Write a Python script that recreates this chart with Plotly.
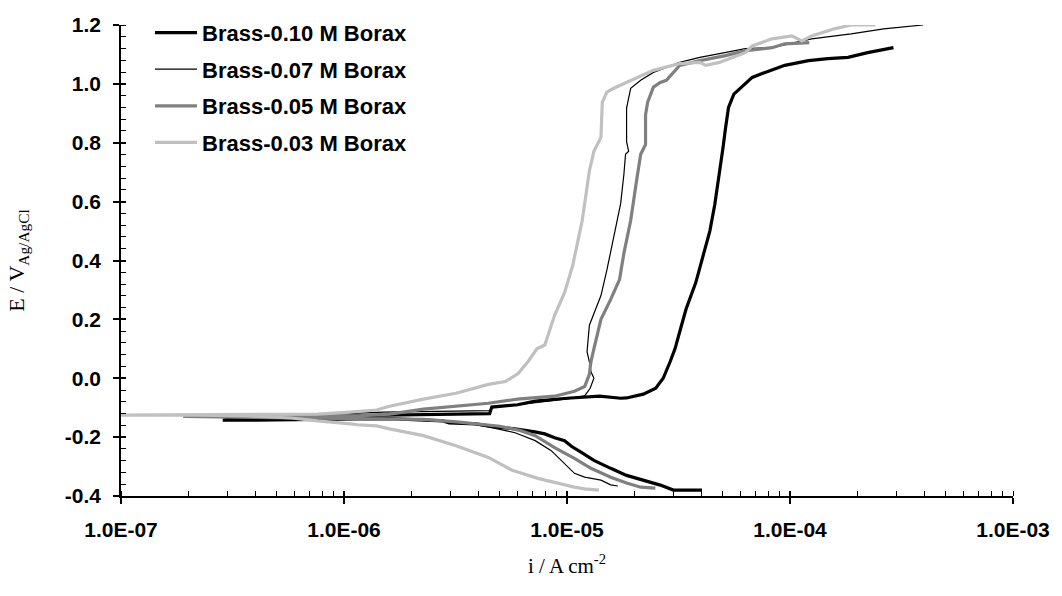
import plotly.graph_objects as go

# Potentiodynamic polarization curves of brass in borax solutions
# current density (A cm^-2) and potential (V vs Ag/AgCl), cathodic end -> anodic end

labels = ["Brass-0.10 M Borax", "Brass-0.07 M Borax", "Brass-0.05 M Borax", "Brass-0.03 M Borax"]

i_010 = [4.03e-5, 3.0e-5, 2.62e-5, 2.2e-5, 1.85e-5, 1.57e-5, 1.32e-5, 1.16e-5, 1.05e-5, 9.75e-6,
         8.8e-6, 7.95e-6, 7.18e-6, 5.85e-6, 4.77e-6, 3.89e-6, 2.96e-6, 2.78e-6, 2.27e-6, 1.6e-6,
         1.15e-6, 7.6e-7, 4.0e-7, 2.86e-7,
         3.3e-7, 6.0e-7, 1.0e-6, 1.45e-6, 3.0e-6, 4.5e-6, 4.6e-6, 6.0e-6, 7.2e-6, 1.0e-5,
         1.4e-5, 1.74e-5, 1.85e-5, 2.2e-5, 2.5e-5, 2.7e-5, 2.9e-5, 3.05e-5, 3.2e-5, 3.42e-5,
         3.78e-5, 4.07e-5, 4.37e-5, 4.6e-5, 4.83e-5, 5.0e-5, 5.14e-5, 5.3e-5, 5.6e-5, 6.2e-5,
         6.77e-5, 7.73e-5, 9.48e-5, 1.21e-4, 1.48e-4, 1.82e-4, 2.23e-4, 2.91e-4]
E_010 = [-0.380, -0.380, -0.363, -0.346, -0.330, -0.306, -0.279, -0.252, -0.232, -0.212,
         -0.202, -0.189, -0.182, -0.172, -0.165, -0.155, -0.152, -0.145, -0.142, -0.137,
         -0.138, -0.140, -0.142, -0.142,
         -0.136, -0.130, -0.127, -0.124, -0.122, -0.120, -0.098, -0.090, -0.078, -0.068,
         -0.061, -0.068, -0.067, -0.054, -0.034, 0.000, 0.056, 0.100, 0.157, 0.235,
         0.325, 0.415, 0.500, 0.590, 0.694, 0.780, 0.850, 0.920, 0.965, 0.995,
         1.022, 1.039, 1.063, 1.079, 1.086, 1.090, 1.106, 1.123]

i_007 = [1.69e-5, 1.57e-5, 1.42e-5, 1.2e-5, 1.08e-5, 9.75e-6, 8.5e-6, 7.2e-6, 5.85e-6, 4.77e-6,
         3.9e-6, 2.8e-6, 1.6e-6, 1.0e-6, 5.0e-7, 3.0e-7,
         3.3e-7, 7.0e-7, 1.5e-6, 3.0e-6, 4.5e-6, 4.6e-6, 6.0e-6, 8.0e-6, 1.0e-5, 1.2e-5,
         1.27e-5, 1.32e-5, 1.28e-5, 1.26e-5, 1.23e-5, 1.26e-5, 1.42e-5, 1.51e-5, 1.62e-5, 1.74e-5,
         1.80e-5, 1.83e-5, 1.89e-5, 1.85e-5, 1.85e-5, 1.93e-5, 2.14e-5, 2.44e-5, 3.2e-5, 3.94e-5,
         4.83e-5, 6.3e-5, 8.3e-5, 1.25e-4, 1.88e-4, 2.63e-4, 3.95e-4]
E_007 = [-0.366, -0.362, -0.346, -0.336, -0.323, -0.289, -0.246, -0.212, -0.185, -0.170,
         -0.158, -0.147, -0.138, -0.137, -0.138, -0.138,
         -0.132, -0.125, -0.115, -0.112, -0.110, -0.100, -0.090, -0.078, -0.070, -0.060,
         -0.034, 0.000, 0.023, 0.056, 0.090, 0.180, 0.281, 0.368, 0.482, 0.593,
         0.694, 0.761, 0.771, 0.804, 0.918, 0.985, 1.012, 1.039, 1.073, 1.090,
         1.103, 1.120, 1.123, 1.153, 1.170, 1.187, 1.200]

i_005 = [2.49e-5, 2.14e-5, 1.85e-5, 1.57e-5, 1.28e-5, 1.08e-5, 8.8e-6, 7.2e-6, 6.2e-6, 5.0e-6,
         3.2e-6, 2.27e-6, 1.15e-6, 6.0e-7, 2.5e-7, 1.9e-7,
         2.5e-7, 6.0e-7, 1.15e-6, 1.6e-6, 2.27e-6, 3.18e-6, 4.44e-6, 6.0e-6, 8.8e-6, 1.08e-5,
         1.2e-5, 1.26e-5, 1.28e-5, 1.32e-5, 1.42e-5, 1.57e-5, 1.72e-5, 1.80e-5, 1.93e-5, 2.05e-5,
         2.14e-5, 2.25e-5, 2.25e-5, 2.30e-5, 2.44e-5, 2.62e-5, 2.79e-5, 3.2e-5, 3.94e-5, 5.14e-5,
         6.3e-5, 8.3e-5, 9.48e-5, 1.22e-4]
E_005 = [-0.373, -0.370, -0.356, -0.336, -0.306, -0.272, -0.236, -0.195, -0.178, -0.163,
         -0.148, -0.140, -0.137, -0.135, -0.132, -0.130,
         -0.128, -0.126, -0.128, -0.122, -0.105, -0.095, -0.085, -0.071, -0.061, -0.044,
         -0.028, 0.013, 0.056, 0.100, 0.200, 0.268, 0.335, 0.425, 0.536, 0.670,
         0.761, 0.794, 0.895, 0.938, 0.989, 1.005, 1.012, 1.063, 1.079, 1.096,
         1.113, 1.123, 1.136, 1.140]

i_003 = [1.39e-5, 1.2e-5, 1.08e-5, 9.45e-6, 7.4e-6, 5.68e-6, 4.92e-6, 4.44e-6, 3.18e-6, 2.27e-6,
         1.6e-6, 1.4e-6, 1.15e-6, 1.07e-6, 7.6e-7, 5.8e-7, 3.7e-7, 2.2e-7, 1.0e-7,
         2.2e-7, 4.5e-7, 7.6e-7, 1.07e-6, 1.4e-6, 1.6e-6, 2.27e-6, 3.18e-6, 4.44e-6, 5.29e-6,
         6.04e-6, 6.68e-6, 7.33e-6, 7.95e-6, 8.8e-6, 9.75e-6, 1.06e-5, 1.17e-5, 1.26e-5, 1.32e-5,
         1.42e-5, 1.44e-5, 1.51e-5, 1.62e-5, 1.93e-5, 2.44e-5, 3.2e-5, 3.94e-5, 4.19e-5, 4.83e-5,
         6.3e-5, 6.77e-5, 8.3e-5, 1.02e-4, 1.13e-4, 1.25e-4, 1.58e-4, 1.88e-4, 2.42e-4]
E_003 = [-0.380, -0.376, -0.370, -0.360, -0.340, -0.313, -0.289, -0.269, -0.229, -0.195,
         -0.172, -0.162, -0.158, -0.155, -0.145, -0.135, -0.128, -0.125, -0.125,
         -0.124, -0.124, -0.122, -0.115, -0.108, -0.095, -0.071, -0.051, -0.021, -0.011,
         0.016, 0.056, 0.100, 0.113, 0.214, 0.291, 0.382, 0.536, 0.704, 0.771,
         0.818, 0.938, 0.972, 0.985, 1.012, 1.046, 1.069, 1.073, 1.063, 1.073,
         1.106, 1.129, 1.153, 1.163, 1.146, 1.163, 1.187, 1.200, 1.200]

x_tickvals = [1e-7, 1e-6, 1e-5, 1e-4, 1e-3]
x_ticktext = ["1.0E-07", "1.0E-06", "1.0E-05", "1.0E-04", "1.0E-03"]
y_tickvals = [-0.4, -0.2, 0.0, 0.2, 0.4, 0.6, 0.8, 1.0, 1.2]
y_ticktext = ["-0.4", "-0.2", "0.0", "0.2", "0.4", "0.6", "0.8", "1.0", "1.2"]

series = [
    (labels[0], i_010, E_010, "#000000", 3.2),
    (labels[1], i_007, E_007, "#000000", 1.2),
    (labels[2], i_005, E_005, "#808080", 3.2),
    (labels[3], i_003, E_003, "#c0c0c0", 3.2),
]

fig = go.Figure()
for k, (name, xs, ys, col, w) in enumerate(series):
    fig.add_trace(go.Scatter(x=xs, y=ys, mode="lines", name=name, legendgroup=f"g{k}",
                             line=dict(color=col, width=w)))

sans = "Liberation Sans, Arial, sans-serif"
serif = "Liberation Serif, Times New Roman, serif"

fig.update_layout(
    width=1062, height=596,
    margin=dict(l=121, r=38, t=19, b=100),
    paper_bgcolor="white", plot_bgcolor="white",
    showlegend=True,
    legend=dict(x=0.0325, y=1.028, xanchor="left", yanchor="top", itemwidth=42,
                bgcolor="rgba(0,0,0,0)", tracegroupgap=5,
                font=dict(family=sans, size=22, color="black", weight="bold")),
    xaxis=dict(type="log", range=[-7, -3], tickvals=x_tickvals, ticktext=x_ticktext,
               showline=True, linecolor="black", linewidth=1.5, mirror=False,
               ticks="outside", ticklen=6, tickwidth=1.5, tickcolor="black",
               showgrid=False, zeroline=False, ticklabelstandoff=8,
               tickfont=dict(family=sans, size=21, color="black", weight="bold"),
               minor=dict(dtick="D1", ticks="inside", ticklen=5, tickwidth=1, tickcolor="black", showgrid=False),
               title=dict(text="i / A cm<sup>-2</sup>", standoff=18,
                          font=dict(family=serif, size=21, color="black"))),
    yaxis=dict(range=[-0.4, 1.2], tickvals=y_tickvals, ticktext=y_ticktext,
               showline=True, linecolor="black", linewidth=1.5, mirror=False,
               ticks="outside", ticklen=6, tickwidth=1.5, tickcolor="black",
               showgrid=False, zeroline=False, ticklabelstandoff=8,
               tickfont=dict(family=sans, size=21, color="black", weight="bold"),
               minor=dict(dtick=0.04, tick0=0, ticks="inside", ticklen=5, tickwidth=1, tickcolor="black", showgrid=False),
               title=dict(text="E / V<sub>Ag/AgCl</sub>", standoff=34,
                          font=dict(family=serif, size=22, color="black"))),
    # overlay axes carry the inner half of the major ticks
    xaxis2=dict(type="log", range=[-7, -3], overlaying="x", anchor="y", side="bottom",
                tickvals=x_tickvals, showticklabels=False, ticks="inside", ticklen=5,
                tickwidth=1.5, tickcolor="black", showline=False, showgrid=False, zeroline=False),
    yaxis2=dict(range=[-0.4, 1.2], overlaying="y", anchor="x", side="left",
                tickvals=y_tickvals, showticklabels=False, ticks="inside", ticklen=5,
                tickwidth=1.5, tickcolor="black", showline=False, showgrid=False, zeroline=False),
)
fig.add_trace(go.Scatter(x=[], y=[], xaxis="x2", yaxis="y2", showlegend=False, hoverinfo="skip"))

fig.write_html("out.html")
